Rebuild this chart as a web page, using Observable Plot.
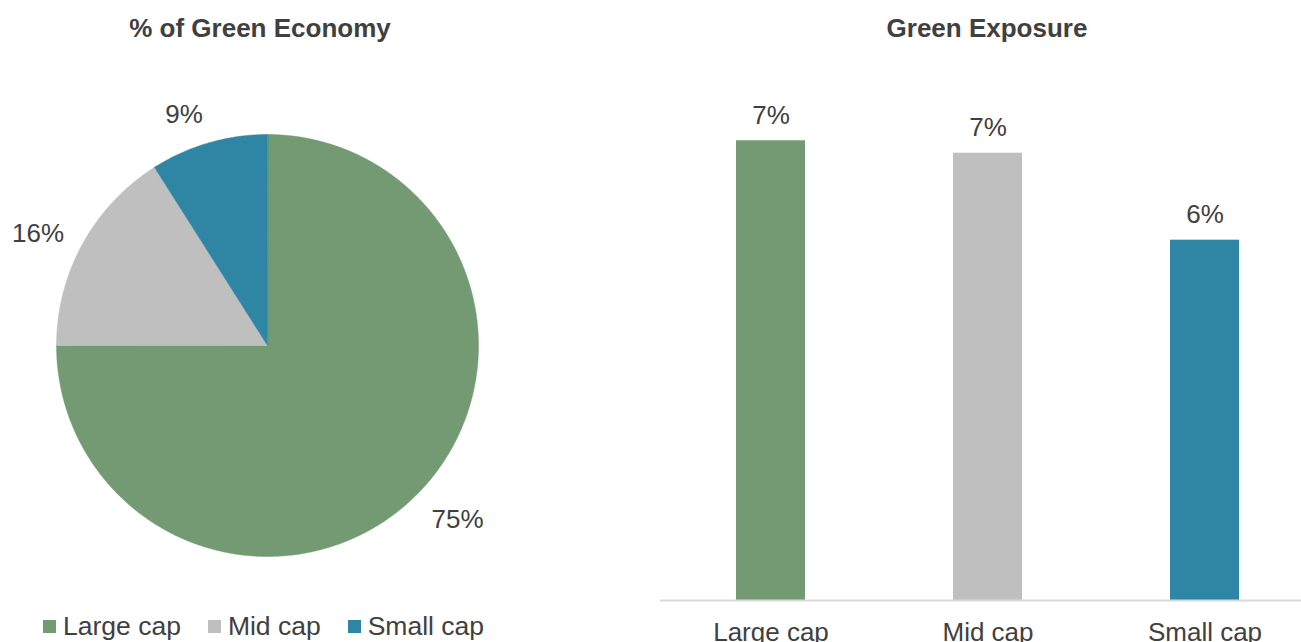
<!DOCTYPE html>
<html><head><meta charset="utf-8">
<script src="https://cdn.jsdelivr.net/npm/d3@7"></script>
<script src="https://cdn.jsdelivr.net/npm/@observablehq/plot@0.6"></script>
<style>
body{margin:0;background:#fff;font-family:"Liberation Sans",Arial,sans-serif;color:#404040;}
#wrap{position:relative;width:1301px;height:642px;overflow:hidden;background:#fff;}
#pie,#bar{position:absolute;top:0;}
#pie{left:0;} #bar{left:660px;}
.title{position:absolute;top:0;font-weight:bold;font-size:26px;line-height:56px;text-align:center;white-space:nowrap;}
#legend{position:absolute;left:43px;top:610px;height:32px;display:flex;align-items:center;font-size:26.5px;line-height:32px;white-space:nowrap;}
#legend .item{display:flex;align-items:center;margin-right:27px;}
#legend .sw{width:13px;height:13px;margin-right:7px;}
</style></head>
<body><div id="wrap">
<div id="pie"></div><div id="bar"></div>
<div class="title" style="left:0;width:520px">% of Green Economy</div>
<div class="title" style="left:687px;width:600px">Green Exposure</div>
<div id="legend"></div>
</div>
<script>
const caps = ["Large cap", "Mid cap", "Small cap"];
const capColors = ["#739A73", "#BFBFBF", "#2E86A4"];
const economyShare = [75, 16, 9];      // % of Green Economy
const greenExposure = [7.4, 7.2, 5.8]; // Green Exposure (%)

const textColor = "#404040";
const font = "'Liberation Sans', Arial, sans-serif";

// ---------- Pie ----------
const pieData = caps.map((cap, i) => ({cap, share: economyShare[i]}));
const arcs = d3.pie().sort(null).value(d => d.share)(pieData);
const pts = arcs.flatMap(a => {
  const n = Math.max(2, Math.ceil((a.endAngle - a.startAngle) / (Math.PI / 360)));
  const arr = [{cap: a.data.cap, x: 0, y: 0}];
  for (let i = 0; i <= n; i++) {
    const t = a.startAngle + (a.endAngle - a.startAngle) * i / n;
    arr.push({cap: a.data.cap, x: Math.sin(t), y: Math.cos(t)});
  }
  return arr;
});
const R = 211, fs = 26;
const labelR = 1.1; // outside-end anchor radius
const pieLabels = arcs.map(a => {
  const m = (a.startAngle + a.endAngle) / 2;
  const s = Math.sin(m), c = Math.cos(m);
  return {
    text: a.data.share + "%",
    x: labelR * s, y: labelR * c,
    ta: s >= 0 ? "start" : "end",
    la: Math.abs(c) > 0.6 ? (c > 0 ? "bottom" : "top") : "middle"
  };
});

const pie = Plot.plot({
  width: 650, height: 642, margin: 0,
  style: {fontFamily: font, color: textColor, background: "transparent", overflow: "visible"},
  x: {domain: [-267 / R, 383 / R], range: [0, 650], axis: null},
  y: {domain: [-297 / R, 345 / R], range: [642, 0], axis: null},
  color: {domain: caps, range: capColors},
  marks: [
    Plot.line(pts, {x: "x", y: "y", z: "cap", fill: "cap", stroke: "cap", strokeWidth: 0.5, curve: "linear-closed"}),
    ...pieLabels.map(l => Plot.text([l], {x: "x", y: "y", text: "text", fontSize: fs, fill: textColor, textAnchor: l.ta, lineAnchor: l.la}))
  ]
});
document.getElementById("pie").append(pie);

// ---------- Bars ----------
const barData = caps.map((cap, i) => ({cap, value: greenExposure[i]}));
const bar = Plot.plot({
  width: 641, height: 642, marginTop: 103, marginBottom: 42, marginLeft: 0, marginRight: 0,
  style: {fontFamily: font, color: textColor, background: "transparent", overflow: "visible"},
  x: {domain: caps, range: [0.7, 653.2], paddingInner: 0.683, paddingOuter: 0.3415},
  y: {domain: [0, 8], axis: null},
  color: {domain: caps, range: capColors},
  marks: [
    Plot.barY(barData, {x: "cap", y: "value", fill: "cap"}),
    Plot.ruleY([0], {stroke: "#D9D9D9", strokeWidth: 2}),
    Plot.text(barData, {x: "cap", y: "value", text: d => d3.format(".0f")(d.value) + "%", lineAnchor: "bottom", dy: -17, fontSize: fs, fill: textColor}),
    Plot.axisX({tickSize: 0, tickPadding: 22, fontSize: fs, fill: textColor, label: null})
  ]
});
document.getElementById("bar").append(bar);

// ---------- Legend ----------
const legend = document.getElementById("legend");
caps.forEach((cap, i) => {
  const it = document.createElement("div"); it.className = "item";
  const sw = document.createElement("div"); sw.className = "sw"; sw.style.background = capColors[i];
  const tx = document.createElement("span"); tx.textContent = cap;
  it.append(sw, tx); legend.append(it);
});
</script>
</body></html>
